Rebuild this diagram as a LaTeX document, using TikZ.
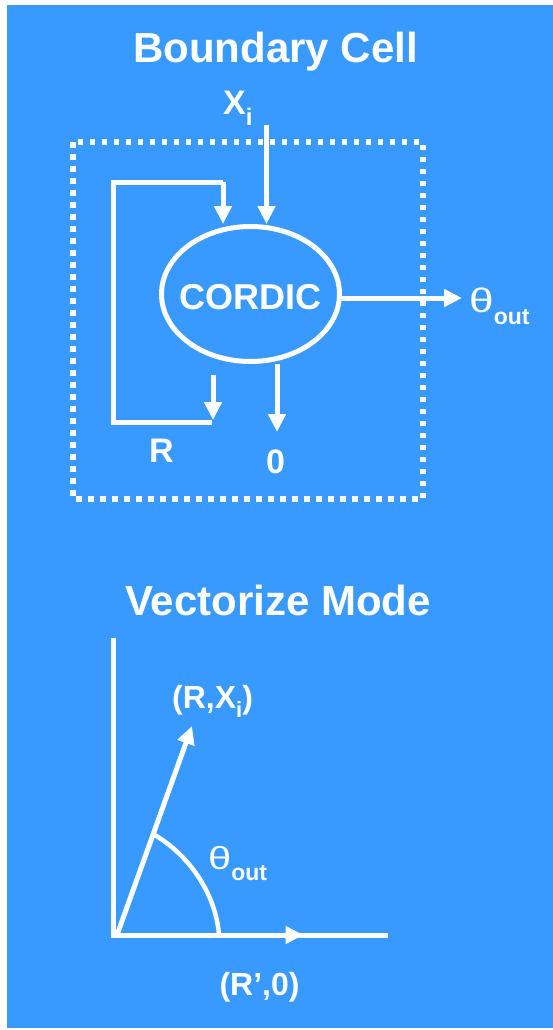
\documentclass[tikz,border=0pt]{standalone}
\usepackage{fontspec}
\setmainfont{Liberation Sans}
\usetikzlibrary{shapes.geometric,arrows.meta,decorations.markings}
\definecolor{bg}{RGB}{56,154,255}
\newcommand{\wtheta}{\scalebox{1.3}[1]{\mdseries θ}}
\begin{document}
\begin{tikzpicture}[x=1pt,y=-1pt,
  wire/.style={white,line width=5pt},
  arr/.style={wire,-{Triangle[width=17pt,length=18pt]}},
  lbl/.style={text=white,inner sep=0pt,font=\bfseries\fontsize{34}{38}\selectfont},
  ttl/.style={text=white,inner sep=0pt,font=\bfseries\fontsize{42}{48}\selectfont},
  dotbox/.style={white,line width=5.5pt,dash pattern=on 5.5pt off 6.5pt}]
\useasboundingbox (0,0) rectangle (553,1030);
\fill[bg] (7,5) rectangle (553,1028);

% ---------- Boundary cell ----------
\node[ttl,anchor=base] (t1) at (275.5,63) {Boundary Cell};
\draw[dotbox] (73,142) rectangle (423,499);

\node[draw=white,line width=5pt,ellipse,minimum width=178pt,minimum height=135pt,
      inner sep=0pt,
      label={[text=white,inner sep=0pt,font=\bfseries\fontsize{36}{40}\selectfont,yshift=-3pt]center:CORDIC}]
      (cordic) at (250.5,294) {};

\node[lbl,anchor=base west] (xi) at (223,115)
  {X\raisebox{-11pt}{\fontsize{24}{26}\selectfont i}};
\coordinate (xin) at (266.5,125);
\draw[arr] (xin) -- (xin |- cordic.north);

% feedback loop R
\coordinate (rb) at (212,422);
\coordinate (lt) at (223,182);
\draw[wire] (rb) -- (113,422) -- (113,182) -- (lt);
\draw[arr] (lt) -- (lt |- cordic.north);
\coordinate (rs) at (213,375);
\coordinate (rt) at (213,420);
\draw[arr] (rs) -- (rt);
\node[lbl,anchor=base] (rlab) at (161.5,462) {R};

% output zero
\coordinate (zb) at (277,432);
\draw[arr] (zb |- cordic.south) -- (zb);
\node[lbl,anchor=base] (zero) at (275.5,473) {0};

% output theta
\coordinate (oend) at (462,298);
\draw[arr] (cordic.east |- oend) -- (oend);
\node[lbl,anchor=base west] (thout) at (469,312)
  {\wtheta\raisebox{-12pt}{\fontsize{23}{25}\selectfont out}};

% ---------- Vectorize mode ----------
\node[ttl,anchor=base] (t2) at (278,615) {Vectorize Mode};

\coordinate (O) at (113.5,935);
\coordinate (ytop) at (113.5,638);
\coordinate (xend) at (385,935);
\coordinate (vtip) at (192,726);
\draw[wire] (ytop) -- (O);
\draw[wire,line cap=rect,postaction={decorate},
  decoration={markings,mark=at position 0.70 with {\arrow{Triangle[width=17pt,length=18pt]}}}]
  (O) -- (xend);
\draw[arr] (117,935) -- (vtip);
\coordinate (a1) at (219,935);
\coordinate (a2) at (153,834);
\draw[white,line width=4.5pt] (a1) .. controls (216,895) and (190,855) .. (a2);

\node[lbl,anchor=base west,font=\bfseries\fontsize{32}{36}\selectfont] (vlab) at (172,708)
  {(R,X\raisebox{-9pt}{\fontsize{22}{24}\selectfont i})};
\node[lbl,anchor=base west,font=\bfseries\fontsize{32}{36}\selectfont] (thv) at (208,869)
  {\wtheta\raisebox{-11pt}{\fontsize{23}{25}\selectfont out}};
\node[lbl,anchor=base,font=\bfseries\fontsize{32}{36}\selectfont] (rp) at (259.5,995) {(R’,0)};
\end{tikzpicture}
\end{document}
